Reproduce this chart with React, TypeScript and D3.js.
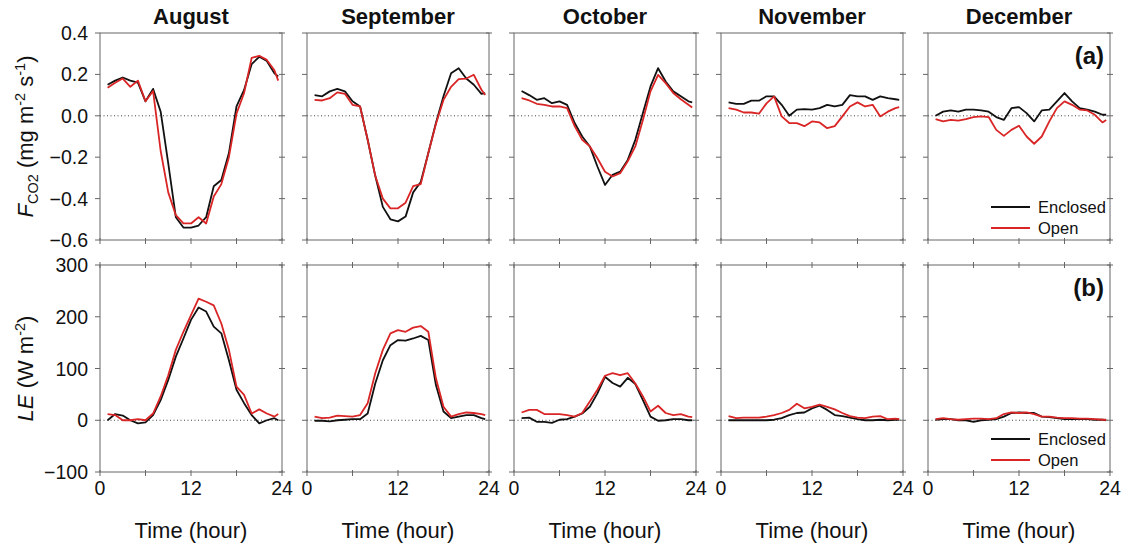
import React, { useRef, useEffect } from 'react';
import * as d3 from 'd3';

const HOURS = [1, 2, 3, 4, 5, 6, 7, 8, 9, 10, 11, 12, 13, 14, 15, 16, 17, 18, 19, 20, 21, 22, 23, 23.5];
const MONTHS = ['August', 'September', 'October', 'November', 'December'];
const X_TICKS = [0, 6, 12, 18, 24];
const X_LABELS = [0, 12, 24];
const FCO2_TICKS = [-0.6, -0.4, -0.2, 0, 0.2, 0.4];
const LE_TICKS = [-100, 0, 100, 200, 300];

// F_CO2 (mg m-2 s-1), enclosed vs open
const fco2EnclosedAug = [0.15, 0.17, 0.185, 0.17, 0.16, 0.07, 0.13, 0.02, -0.23, -0.49, -0.54, -0.54, -0.53, -0.49, -0.34, -0.31, -0.18, 0.045, 0.125, 0.25, 0.285, 0.265, 0.205, 0.19];
const fco2OpenAug = [0.135, 0.16, 0.18, 0.14, 0.17, 0.07, 0.12, -0.17, -0.37, -0.48, -0.52, -0.52, -0.49, -0.52, -0.39, -0.33, -0.2, 0.01, 0.11, 0.28, 0.29, 0.27, 0.22, 0.17];
const fco2EnclosedSep = [0.1, 0.094, 0.118, 0.13, 0.118, 0.07, 0.045, -0.116, -0.29, -0.44, -0.5, -0.51, -0.487, -0.37, -0.32, -0.18, -0.035, 0.094, 0.206, 0.23, 0.18, 0.15, 0.106, 0.11];
const fco2OpenSep = [0.077, 0.074, 0.085, 0.113, 0.106, 0.053, 0.045, -0.116, -0.29, -0.4, -0.447, -0.447, -0.42, -0.34, -0.33, -0.18, -0.04, 0.077, 0.14, 0.177, 0.18, 0.198, 0.126, 0.1];
const fco2EnclosedOct = [0.12, 0.1, 0.077, 0.085, 0.061, 0.07, 0.053, -0.035, -0.1, -0.148, -0.245, -0.334, -0.285, -0.27, -0.213, -0.116, 0.013, 0.142, 0.23, 0.166, 0.118, 0.094, 0.07, 0.065];
const fco2OpenOct = [0.085, 0.074, 0.058, 0.053, 0.045, 0.045, 0.037, -0.05, -0.116, -0.148, -0.205, -0.27, -0.293, -0.277, -0.22, -0.148, -0.02, 0.118, 0.198, 0.158, 0.11, 0.08, 0.053, 0.04];
const fco2EnclosedNov = [0.065, 0.058, 0.058, 0.073, 0.073, 0.094, 0.094, 0.053, 0.0, 0.03, 0.032, 0.03, 0.037, 0.053, 0.045, 0.053, 0.1, 0.094, 0.094, 0.077, 0.094, 0.085, 0.08, 0.077];
const fco2OpenNov = [0.037, 0.03, 0.016, 0.016, 0.01, 0.06, 0.094, -0.003, -0.035, -0.035, -0.05, -0.027, -0.032, -0.06, -0.05, -0.003, 0.045, 0.065, 0.045, 0.053, -0.003, 0.02, 0.037, 0.042];
const fco2EnclosedDec = [0.0, 0.02, 0.026, 0.02, 0.03, 0.03, 0.026, 0.02, -0.006, -0.02, 0.037, 0.042, 0.013, -0.027, 0.026, 0.03, 0.07, 0.11, 0.07, 0.037, 0.03, 0.02, 0.005, 0.005];
const fco2OpenDec = [-0.016, -0.027, -0.02, -0.023, -0.016, -0.006, -0.003, -0.006, -0.068, -0.097, -0.068, -0.048, -0.1, -0.135, -0.1, -0.027, 0.037, 0.07, 0.053, 0.03, 0.026, 0.005, -0.032, -0.02];

// LE (W m-2), enclosed vs open
const leEnclosedAug = [0, 12, 9, 0, -6, -4, 10, 39, 78, 123, 158, 194, 218, 210, 181, 168, 116, 59, 33, 10, -6, 0, 4, 0];
const leOpenAug = [12, 10, 0, 0, 2, 0, 13, 46, 87, 136, 171, 203, 235, 229, 222, 187, 136, 65, 49, 13, 21, 13, 7, 12];
const leEnclosedSep = [-1, -1, -2, 0, 1, 2, 2, 13, 71, 116, 145, 155, 154, 158, 163, 155, 68, 17, 4, 7, 10, 10, 4, 2];
const leOpenSep = [7, 4, 5, 9, 8, 7, 10, 33, 91, 136, 168, 174, 171, 179, 182, 171, 81, 26, 7, 12, 15, 14, 12, 10];
const leEnclosedOct = [4, 5, -3, -3, -5, 1, 2, 7, 13, 26, 52, 84, 72, 65, 82, 70, 39, 7, -1, 0, 2, 2, 0, 0];
const leOpenOct = [15, 20, 20, 12, 12, 12, 10, 7, 14, 36, 59, 86, 91, 87, 91, 71, 46, 17, 28, 14, 10, 12, 7, 6];
const leEnclosedNov = [0, 0, 0, 0, 0, 0, 1, 4, 10, 14, 15, 23, 28, 20, 10, 8, 5, 2, 0, 0, 1, 0, 1, 1];
const leOpenNov = [8, 4, 5, 5, 5, 7, 10, 14, 20, 32, 23, 26, 30, 26, 21, 14, 8, 5, 4, 7, 8, 2, 3, 2];
const leEnclosedDec = [1, 2, 2, 0, 0, -3, 0, 1, 2, 7, 14, 15, 14, 14, 7, 6, 4, 2, 2, 2, 2, 1, 1, 0];
const leOpenDec = [2, 4, 2, 1, 2, 3, 3, 2, 4, 12, 15, 14, 15, 12, 7, 7, 5, 4, 4, 3, 3, 2, 1, 1];

const FCO2_ENCLOSED = [fco2EnclosedAug, fco2EnclosedSep, fco2EnclosedOct, fco2EnclosedNov, fco2EnclosedDec];
const FCO2_OPEN = [fco2OpenAug, fco2OpenSep, fco2OpenOct, fco2OpenNov, fco2OpenDec];
const LE_ENCLOSED = [leEnclosedAug, leEnclosedSep, leEnclosedOct, leEnclosedNov, leEnclosedDec];
const LE_OPEN = [leOpenAug, leOpenSep, leOpenOct, leOpenNov, leOpenDec];

const FONT = "'Liberation Sans', Arial, sans-serif";
const AXIS = '#666';
const BLACK = '#111';
const RED = '#d92525';

function App() {
  const ref = useRef<SVGSVGElement>(null);

  useEffect(() => {
    const svg = d3.select(ref.current);
    svg.selectAll('*').remove();

    const rows = [
      { top: 33, bottom: 240, domain: [-0.6, 0.4], ticks: FCO2_TICKS, fmt: d3.format('.1f'), enc: FCO2_ENCLOSED, open: FCO2_OPEN, letter: '(a)', topTicks: false },
      { top: 265, bottom: 472, domain: [-100, 300], ticks: LE_TICKS, fmt: d3.format('d'), enc: LE_ENCLOSED, open: LE_OPEN, letter: '(b)', topTicks: true },
    ];

    rows.forEach((row, r) => {
      const y = d3.scaleLinear().domain(row.domain).range([row.bottom, row.top]);

      MONTHS.forEach((month, i) => {
        const left = 100 + i * 207;
        const right = left + 182;
        const x = d3.scaleLinear().domain([0, 24]).range([left, right]);
        const g = svg.append('g');

        // zero reference line
        g.append('line')
          .attr('x1', left).attr('x2', right)
          .attr('y1', y(0)).attr('y2', y(0))
          .attr('stroke', '#444').attr('stroke-width', 1)
          .attr('stroke-dasharray', '1,2.5');

        // frame
        g.append('rect')
          .attr('x', left).attr('y', row.top)
          .attr('width', right - left).attr('height', row.bottom - row.top)
          .attr('fill', 'none').attr('stroke', AXIS).attr('stroke-width', 1);

        // y ticks
        row.ticks.forEach((t) => {
          g.append('line').attr('x1', left - 5).attr('x2', left).attr('y1', y(t)).attr('y2', y(t))
            .attr('stroke', AXIS);
          g.append('line').attr('x1', right - 3).attr('x2', right + 3).attr('y1', y(t)).attr('y2', y(t))
            .attr('stroke', AXIS);
        });

        // x ticks
        X_TICKS.forEach((t) => {
          g.append('line').attr('x1', x(t)).attr('x2', x(t)).attr('y1', row.bottom - 2).attr('y2', row.bottom + 4)
            .attr('stroke', AXIS);
          if (row.topTicks) {
            g.append('line').attr('x1', x(t)).attr('x2', x(t)).attr('y1', row.top - 3).attr('y2', row.top + 3)
              .attr('stroke', AXIS);
          }
        });

        if (i === 0) {
          g.selectAll('.ylab').data(row.ticks).enter().append('text')
            .attr('x', left - 12).attr('y', (d) => y(d))
            .attr('dy', '0.36em').attr('text-anchor', 'end')
            .attr('font-family', FONT).attr('font-size', 19.5).attr('fill', '#111')
            .text((d) => row.fmt(d));
        }

        if (r === 0) {
          g.append('text')
            .attr('x', (left + right) / 2).attr('y', 24)
            .attr('text-anchor', 'middle').attr('font-family', FONT)
            .attr('font-weight', 'bold').attr('font-size', 22).attr('fill', '#111')
            .text(month);
        } else {
          g.selectAll('.xlab').data(X_LABELS).enter().append('text')
            .attr('x', (d) => x(d)).attr('y', 495)
            .attr('text-anchor', 'middle').attr('font-family', FONT)
            .attr('font-size', 19.5).attr('fill', '#111')
            .text((d) => d);
          g.append('text')
            .attr('x', (left + right) / 2).attr('y', 538)
            .attr('text-anchor', 'middle').attr('font-family', FONT)
            .attr('font-size', 22).attr('fill', '#111')
            .text('Time (hour)');
        }

        const line = d3.line<number>()
          .x((_, k) => x(HOURS[k]))
          .y((d) => y(d));

        g.append('path').datum(row.enc[i]).attr('d', line)
          .attr('fill', 'none').attr('stroke', BLACK).attr('stroke-width', 1.8)
          .attr('stroke-linejoin', 'round');
        g.append('path').datum(row.open[i]).attr('d', line)
          .attr('fill', 'none').attr('stroke', RED).attr('stroke-width', 1.8)
          .attr('stroke-linejoin', 'round');

        if (i === MONTHS.length - 1) {
          g.append('text')
            .attr('x', 1104).attr('y', row.top + 31)
            .attr('text-anchor', 'end').attr('font-family', FONT)
            .attr('font-weight', 'bold').attr('font-size', 24).attr('fill', '#111')
            .text(row.letter);

          const legY = row.bottom - 33;
          [['Enclosed', BLACK], ['Open', RED]].forEach(([label, color], k) => {
            const ly = legY + k * 21;
            g.append('line').attr('x1', 991).attr('x2', 1030).attr('y1', ly).attr('y2', ly)
              .attr('stroke', color).attr('stroke-width', 1.8);
            g.append('text').attr('x', 1038).attr('y', ly).attr('dy', '0.36em')
              .attr('font-family', FONT).attr('font-size', 16.5).attr('fill', '#111')
              .text(label);
          });
        }
      });
    });

    // y-axis titles
    const t1 = svg.append('text')
      .attr('transform', `translate(33,${(33 + 240) / 2}) rotate(-90)`)
      .attr('text-anchor', 'middle').attr('font-family', FONT).attr('font-size', 22).attr('fill', '#111');
    t1.append('tspan').attr('font-style', 'italic').text('F');
    t1.append('tspan').attr('font-size', 14.5).attr('dy', 5).text('CO2');
    t1.append('tspan').attr('dy', -5).text(' (mg m');
    t1.append('tspan').attr('font-size', 14.5).attr('dy', -8).text('-2');
    t1.append('tspan').attr('dy', 8).text(' s');
    t1.append('tspan').attr('font-size', 14.5).attr('dy', -8).text('-1');
    t1.append('tspan').attr('dy', 8).text(')');

    const t2 = svg.append('text')
      .attr('transform', `translate(33,${(265 + 472) / 2}) rotate(-90)`)
      .attr('text-anchor', 'middle').attr('font-family', FONT).attr('font-size', 22).attr('fill', '#111');
    t2.append('tspan').attr('font-style', 'italic').text('LE');
    t2.append('tspan').text(' (W m');
    t2.append('tspan').attr('font-size', 14.5).attr('dy', -8).text('-2');
    t2.append('tspan').attr('dy', 8).text(')');
  }, []);

  return (
    <div style={{ position: 'absolute', left: 0, top: 0 }}>
      <svg ref={ref} width={1128} height={546} style={{ display: 'block', background: '#fff' }} />
    </div>
  );
}

export default App;
